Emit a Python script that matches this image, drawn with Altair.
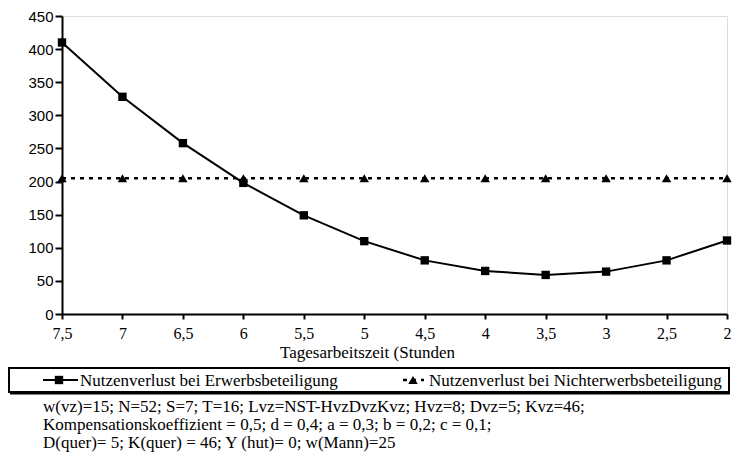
import altair as alt
import pandas as pd

# ---- data ----
hours = [7.5, 7, 6.5, 6, 5.5, 5, 4.5, 4, 3.5, 3, 2.5, 2]
erwerb = [410, 328, 258, 198, 149, 110, 81, 65, 59, 64, 81, 111]
nichterwerb = [205, 205, 205, 205, 205, 205, 205, 205, 205, 205, 205, 205]
series_names = ["Nutzenverlust bei Erwerbsbeteiligung",
                "Nutzenverlust bei Nichterwerbsbeteiligung"]
y_ticks = [0, 50, 100, 150, 200, 250, 300, 350, 400, 450]
x_title = "Tagesarbeitszeit (Stunden"
footnote = [
    "w(vz)=15; N=52; S=7; T=16; Lvz=NST-HvzDvzKvz; Hvz=8; Dvz=5; Kvz=46;",
    "Kompensationskoeffizient = 0,5; d = 0,4; a = 0,3; b = 0,2; c = 0,1;",
    "D(quer)= 5; K(quer) = 46; Y (hut)= 0; w(Mann)=25",
]

W, H = 665, 298
SERIF = "Liberation Serif"
SANS = "Liberation Sans"

df1 = pd.DataFrame({"h": hours, "v": erwerb, "s": series_names[0]})
df2 = pd.DataFrame({"h": hours, "v": nichterwerb, "s": series_names[1]})

x = alt.X(
    "h:Q",
    scale=alt.Scale(domain=[2, 7.5], reverse=True, nice=False, zero=False),
    axis=alt.Axis(
        values=hours, format=".1~f",
        labelExpr="replace(datum.label, '.', ',')",
        title=x_title, titleFont=SERIF, titleFontSize=17, titleFontWeight="normal",
        titleColor="black", titlePadding=3, titleX=305,
        labelFont=SERIF, labelFontSize=16, labelColor="black", labelPadding=6,
        tickSize=5, tickColor="black", tickWidth=2,
        domainColor="black", domainWidth=2, grid=False, labelFlush=False,
    ),
)
y = alt.Y(
    "v:Q",
    scale=alt.Scale(domain=[0, 450], nice=False),
    axis=alt.Axis(
        values=y_ticks, title=None,
        labelFont=SANS, labelFontSize=15, labelColor="black", labelPadding=2,
        tickSize=7, tickColor="black", tickWidth=2,
        domainColor="black", domainWidth=2, grid=False,
    ),
)

line1 = alt.Chart(df1).mark_line(color="black", strokeWidth=2).encode(x=x, y=y)
pts1 = alt.Chart(df1).mark_point(shape="square", filled=True, size=70,
                                 color="black", opacity=1).encode(x=x, y=y)
line2 = alt.Chart(df2).mark_line(color="black", strokeWidth=2.4,
                                 strokeDash=[4, 5]).encode(x=x, y=y)
pts2 = alt.Chart(df2).mark_point(shape="triangle-up", filled=True, size=90,
                                 color="black", opacity=1).encode(x=x, y=y)

one = pd.DataFrame({"a": [0]})

# legend box (pixel positions relative to the plot area)
LEG_TOP, LEG_BOT, LEG_MID = 352, 376, 364
box = alt.Chart(one).mark_rect(filled=False, stroke="black", strokeWidth=2).encode(
    x=alt.value(-53), x2=alt.value(667), y=alt.value(LEG_TOP), y2=alt.value(LEG_BOT))
box_shadow = alt.Chart(one).mark_rule(color="black", strokeWidth=2).encode(
    x=alt.value(-52), x2=alt.value(668), y=alt.value(LEG_BOT + 1.5))

leg_line1 = alt.Chart(one).mark_rule(color="black", strokeWidth=2).encode(
    x=alt.value(-19), x2=alt.value(16), y=alt.value(LEG_MID))
leg_pt1 = alt.Chart(one).mark_point(shape="square", filled=True, size=70,
                                    color="black", opacity=1).encode(
    x=alt.value(-3), y=alt.value(LEG_MID))
leg_txt1 = alt.Chart(one).mark_text(align="left", baseline="middle", font=SERIF,
                                    fontSize=17, color="black").encode(
    x=alt.value(18), y=alt.value(LEG_MID + 1), text=alt.value(series_names[0]))

leg_line2 = alt.Chart(one).mark_rule(color="black", strokeWidth=2.4,
                                     strokeDash=[4, 5]).encode(
    x=alt.value(341), x2=alt.value(362), y=alt.value(LEG_MID))
leg_pt2 = alt.Chart(one).mark_point(shape="triangle-up", filled=True, size=90,
                                    color="black", opacity=1).encode(
    x=alt.value(351), y=alt.value(LEG_MID))
leg_txt2 = alt.Chart(one).mark_text(align="left", baseline="middle", font=SERIF,
                                    fontSize=17, color="black").encode(
    x=alt.value(367), y=alt.value(LEG_MID + 1), text=alt.value(series_names[1]))

foot = alt.Chart(one).mark_text(align="left", baseline="top", font=SERIF,
                                fontSize=17, lineHeight=18, color="black").encode(
    x=alt.value(-19), y=alt.value(383), text=alt.value(footnote))

chart = alt.layer(
    line2, pts2, line1, pts1,
    box, box_shadow, leg_line1, leg_pt1, leg_txt1, leg_line2, leg_pt2, leg_txt2, foot,
).properties(
    width=W, height=H,
    autosize="none",
    padding={"left": 54, "top": 8, "right": 5, "bottom": 138},
).configure_view(
    stroke="black", strokeWidth=2,
).configure(background="white")

chart.save("out.html", embed_options={"renderer": "svg", "actions": False})
